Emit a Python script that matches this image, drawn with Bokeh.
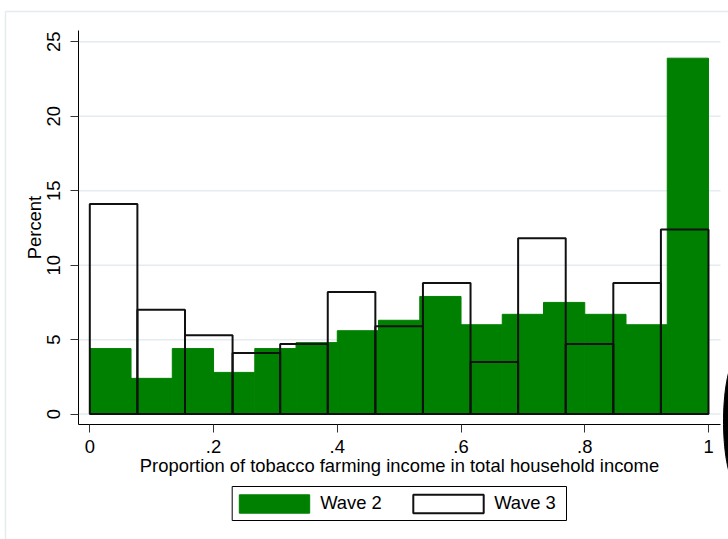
import numpy as np
from bokeh.plotting import figure
from bokeh.models import (ColumnDataSource, FixedTicker, Range1d, Legend, LegendItem,
                          BoxAnnotation, PolyAnnotation)
from bokeh.embed import file_html
from bokeh.resources import INLINE

# ---- data (percent per bin) ----
series_names = ["Wave 2", "Wave 3"]
wave2_pct = [4.4, 2.4, 4.4, 2.8, 4.4, 4.8, 5.6, 6.3, 7.9, 6.0, 6.7, 7.5, 6.7, 6.0, 23.9]
wave3_pct = [14.1, 7.0, 5.3, 4.1, 4.7, 8.2, 5.9, 8.8, 3.5, 11.8, 4.7, 8.8, 12.4]
bin_start, bin_end = 0.0, 1.0
x_ticks = [0, 0.2, 0.4, 0.6, 0.8, 1.0]
x_tick_labels = ["0", ".2", ".4", ".6", ".8", "1"]
y_ticks = [0, 5, 10, 15, 20, 25]
x_title = "Proportion of tobacco farming income in total household income"
y_title = "Percent"

# ---- plot-region limits (where the axis lines start/end) ----
X_LO, X_HI = -0.01875, 1.0194
Y_LO, Y_HI = -0.7185, 25.759

FONT = "Liberation Sans"
FS = "18.4px"
W, H = 728, 539


def bin_edges(n):
    e = np.linspace(bin_start, bin_end, n + 1)
    return e[:-1], e[1:]


l2, r2 = bin_edges(len(wave2_pct))
l3, r3 = bin_edges(len(wave3_pct))
src2 = ColumnDataSource(dict(left=l2, right=r2, top=wave2_pct, bottom=[0] * len(wave2_pct)))
src3 = ColumnDataSource(dict(left=l3, right=r3, top=wave3_pct, bottom=[0] * len(wave3_pct)))

# the frame covers the whole canvas; axes are drawn at fixed locations
p = figure(width=W, height=H, output_backend="svg", toolbar_location=None,
           x_range=Range1d(-0.14433, 1.03233), y_range=Range1d(-8.4206, 27.773),
           min_border=0, min_border_left=0, min_border_right=0,
           min_border_top=0, min_border_bottom=0)
p.background_fill_color = "white"
p.border_fill_color = "white"
p.outline_line_color = None
p.xgrid.visible = False
p.ygrid.visible = False

# horizontal grid lines limited to the plot region
p.segment(x0=[X_LO] * len(y_ticks), x1=[X_HI] * len(y_ticks), y0=y_ticks, y1=y_ticks,
          line_color="#e4ecef", line_width=1.5)

g2 = p.quad(left="left", right="right", top="top", bottom="bottom", source=src2,
            fill_color="#008000", line_color="#008000", line_width=1)
g3 = p.quad(left="left", right="right", top="top", bottom="bottom", source=src3,
            fill_alpha=0, line_color="#111111", line_width=2)

# axes
for ax in (p.xaxis[0], p.yaxis[0]):
    ax.axis_line_color = "#000000"
    ax.axis_line_width = 1
    ax.major_tick_line_color = "#333333"
    ax.major_tick_out = 8
    ax.major_tick_in = 0
    ax.minor_tick_line_color = None
    ax.major_label_text_font = FONT
    ax.major_label_text_font_size = FS
    ax.major_label_text_color = "#000000"
    ax.axis_label_text_font = FONT
    ax.axis_label_text_font_size = FS
    ax.axis_label_text_font_style = "normal"
    ax.axis_label_text_color = "#000000"

p.xaxis.ticker = FixedTicker(ticks=x_ticks)
p.xaxis.major_label_overrides = {t: s for t, s in zip(x_ticks, x_tick_labels)}
p.xaxis.axis_label = x_title
p.xaxis.major_label_standoff = 7
p.xaxis.axis_label_standoff = -1
p.xaxis.bounds = (X_LO, X_HI)
p.xaxis.fixed_location = Y_LO

p.yaxis.ticker = FixedTicker(ticks=y_ticks)
p.yaxis.axis_label = y_title
p.yaxis.major_label_orientation = "vertical"
p.yaxis.major_label_standoff = 10
p.yaxis.axis_label_standoff = 0
p.yaxis.bounds = (Y_LO, Y_HI)
p.yaxis.fixed_location = X_LO

# legend (box drawn separately so the swatches sit where the reference has them)
legend = Legend(items=[LegendItem(label=series_names[0], renderers=[g2]),
                       LegendItem(label=series_names[1], renderers=[g3])],
                orientation="horizontal", location=(230.2, 24.3))
legend.label_text_font = FONT
legend.label_text_font_size = FS
legend.label_text_color = "#000000"
legend.glyph_width = 88
legend.glyph_height = 23
legend.label_standoff = 2
legend.label_width = 70
legend.spacing = 14
legend.padding = 0
legend.margin = 0
legend.border_line_color = None
legend.background_fill_alpha = 0
p.add_layout(legend)

legend_box = BoxAnnotation(left=231.7, right=566, top=486, bottom=520,
                           left_units="canvas", right_units="canvas",
                           top_units="canvas", bottom_units="canvas",
                           fill_alpha=0, line_color="#000000", line_width=1, line_alpha=1)
p.add_layout(legend_box)

# outer graph-region border (light line)
outer = BoxAnnotation(left=5, right=W + 40, top=11, bottom=H + 40,
                      left_units="canvas", right_units="canvas",
                      top_units="canvas", bottom_units="canvas",
                      fill_alpha=0, line_color="#e4ecef", line_width=1.5, line_alpha=1,
                      level="underlay")
p.add_layout(outer)

# dark oval partly visible at the right edge of the reference picture
t = np.linspace(0, 2 * np.pi, 72)
blob = PolyAnnotation(xs=list(738 + 15 * np.cos(t)), ys=list(421 + 65 * np.sin(t)),
                      xs_units="canvas", ys_units="canvas",
                      fill_color="#000000", fill_alpha=1, line_color="#000000", line_alpha=1)
p.add_layout(blob)

open("out.html", "w").write(file_html(p, INLINE))
